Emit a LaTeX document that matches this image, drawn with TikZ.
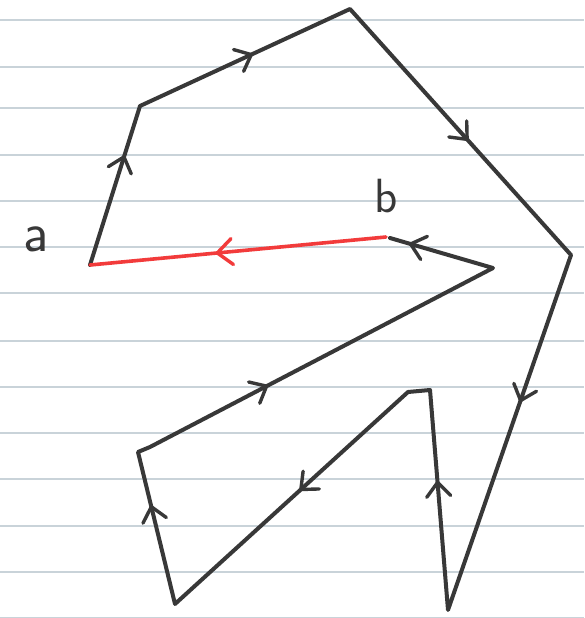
\documentclass[tikz,border=0pt]{standalone}
\usetikzlibrary{decorations.markings}
\definecolor{ink}{HTML}{383838}
\definecolor{redink}{HTML}{F23B3B}
\definecolor{rule}{HTML}{C9D3D9}
\tikzset{
  chev/.style={postaction={decorate},decoration={markings,
    mark=at position #1 with {\draw[draw=ink,line width=3.4pt,line cap=round,line join=round] (-14pt,12pt) -- (0pt,0pt) -- (-14pt,-12pt);}}},
  redchev/.style={postaction={decorate},decoration={markings,
    mark=at position #1 with {\draw[draw=redink,line width=3.4pt,line cap=round,line join=round] (-15pt,13pt) -- (0pt,0pt) -- (-15pt,-13pt);}}},
  pen/.style={draw=ink,line width=4pt,line cap=round,line join=round},
  redpen/.style={draw=redink,line width=3.6pt,line cap=round,line join=round},
  ruling/.style={draw=rule,line width=1.8pt},
  lbl/.style={font=\fontsize{48}{48}\selectfont\sffamily,text=ink,inner sep=0pt}
}
\begin{document}
\begin{tikzpicture}[x=1pt,y=-1pt]
\useasboundingbox (0,0) rectangle (584,618);
\fill[white] (0,0) rectangle (584,618);
\foreach \yy in {20,66.7,108.3,155,201,247.3,293.3,340.7,386.7,433.3,479.3,526,572.3,617.5}
  \draw[ruling] (0,\yy) -- (584,\yy);
% vertices
\coordinate (a) at (90,265);
\coordinate (v1) at (140,106);
\coordinate (v2) at (350,9);
\coordinate (v3) at (571,255);
\coordinate (v4) at (448,610);
\coordinate (v5) at (430,390);
\coordinate (v6) at (408,392);
\coordinate (v7) at (175,604);
\coordinate (v8) at (138,452);
\coordinate (v8b) at (150,447);
\coordinate (v9) at (493,268);
\coordinate (b) at (390,238);
\coordinate (r) at (386,237);
% polygon
\draw[pen] (a) -- (v1) -- (v2) -- (v3) -- (v4) -- (v5) -- (v6) -- (v7) -- (v8) -- (v8b) -- (v9) -- (b);
\path[chev=0.68] (a) -- (v1);
\path[chev=0.53] (v1) -- (v2);
\path[chev=0.53] (v2) -- (v3);
\path[chev=0.41] (v3) -- (v4);
\path[chev=0.58] (v4) -- (v5);
\path[chev=0.46] (v6) -- (v7);
\path[chev=0.64] (v7) -- (v8);
\path[chev=0.34] (v8b) -- (v9);
\path[chev=0.8] (v9) -- (b);
\draw[redpen] (r) -- (a);
\path[redchev=0.57] (r) -- (a);
\node[lbl,font=\fontsize{56}{56}\selectfont\sffamily] (la) at (36,239) {a};
\node[lbl] (lb) at (386,196) {b};
\end{tikzpicture}
\end{document}
